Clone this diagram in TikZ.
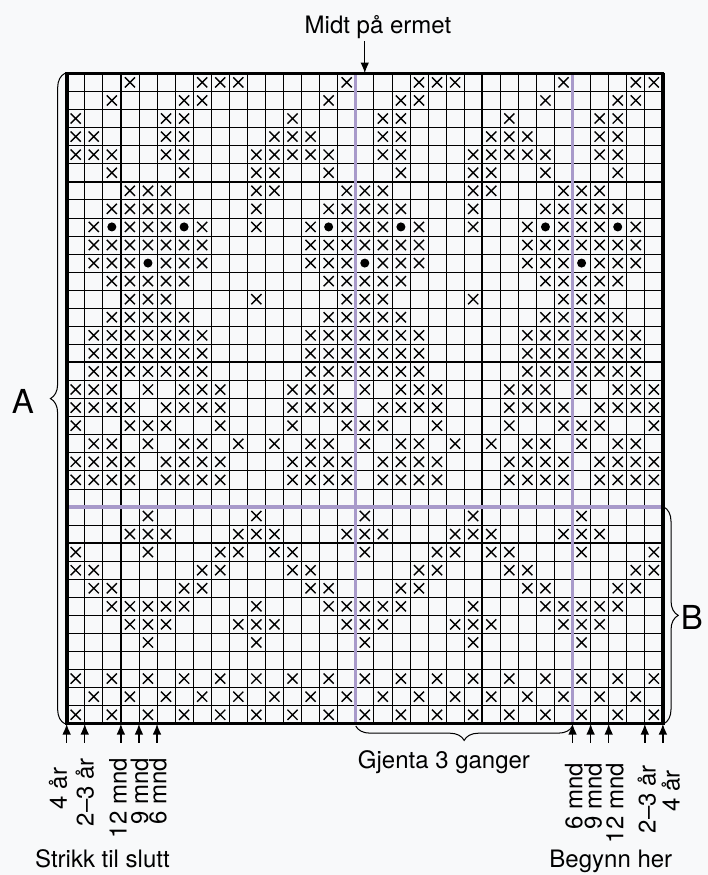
\documentclass[tikz,border=0pt]{standalone}
\usepackage{fontspec}
\setmainfont{TeX Gyre Heros}
\usetikzlibrary{arrows.meta,decorations.pathreplacing}
\definecolor{bakgrunn}{RGB}{248,249,250}
\definecolor{lilla}{RGB}{168,154,202}
\tikzset{
  tynn/.style={line width=0.6pt},
  tykk/.style={line width=1.5pt},
  midtlinje/.style={lilla,line width=2.7pt},
  pil/.style={-{Latex[length=3mm,width=2.4mm]},line width=1.1pt},
  klamme/.style={decorate,decoration={brace,amplitude=0.4cm},line width=0.8pt},
  tekst/.style={font=\fontsize{18.9}{22}\selectfont,inner sep=0pt},
  str/.style={tekst,rotate=90,anchor=east},
  bokstav/.style={font=\fontsize{26}{30}\selectfont,inner sep=0pt},
  kryss/.pic={\draw[line width=1.1pt] (-0.28,-0.28) -- (0.28,0.28) (-0.28,0.28) -- (0.28,-0.28);}
}

\begin{document}
\begin{tikzpicture}[x=0.5cm,y=0.5cm,>=latex]
    \fill[bakgrunn] (-3.69,4.06) rectangle (35.49,-44.37);
    \useasboundingbox (-3.69,4.06) rectangle (35.49,-44.37);
    % rutenett
    \draw[tynn,step=1] (0,0) grid (33,-36);
    \foreach \x in {3,13,23} \draw[tykk] (\x,0) -- (\x,-36);
    \foreach \y in {6,16,26} \draw[tykk] (0,-\y) -- (33,-\y);
    \draw[midtlinje] (0,-24) -- (33,-24);
    \foreach \x in {16,28} \draw[midtlinje] (\x,0) -- (\x,-36);
    % moenster, rad for rad ovenfra
    \foreach \r/\cols in {
        0/{3,7,8,9,15,19,20,21,27,31,32},
        1/{2,6,7,14,18,19,26,30,31},
        2/{0,5,6,12,17,18,24,29,30},
        3/{0,1,5,6,11,12,13,17,18,23,24,25,29,30},
        4/{0,1,2,5,6,10,11,12,13,14,17,18,22,23,24,25,26,29,30},
        5/{2,6,10,11,14,18,22,23,26,30},
        6/{3,4,5,10,11,15,16,17,22,23,27,28,29},
        7/{2,3,4,5,6,10,14,15,16,17,18,22,26,27,28,29,30},
        8/{1,3,4,5,7,10,13,15,16,17,19,22,25,27,28,29,31},
        9/{1,2,3,4,5,6,7,13,14,15,16,17,18,19,25,26,27,28,29,30,31},
        10/{1,2,3,5,6,7,13,14,15,17,18,19,25,26,27,29,30,31},
        11/{2,3,4,5,6,14,15,16,17,18,26,27,28,29,30},
        12/{3,4,5,10,15,16,17,22,27,28,29},
        13/{2,3,4,5,6,14,15,16,17,18,26,27,28,29,30},
        14/{1,2,3,4,5,6,7,13,14,15,16,17,18,19,25,26,27,28,29,30,31},
        15/{1,2,3,4,5,6,7,13,14,15,16,17,18,19,25,26,27,28,29,30,31},
        16/{1,2,3,4,5,6,7,13,14,15,16,17,18,19,25,26,27,28,29,30,31},
        17/{0,1,2,4,6,7,8,12,13,14,16,18,19,20,24,25,26,28,30,31,32},
        18/{0,1,2,3,5,6,7,8,12,13,14,15,17,18,19,20,24,25,26,27,29,30,31,32},
        19/{0,3,4,5,8,12,15,16,17,20,24,27,28,29,32},
        20/{1,2,4,6,7,9,11,13,14,16,18,19,21,23,25,26,28,30,31},
        21/{0,1,2,3,5,6,7,8,12,13,14,15,17,18,19,20,24,25,26,27,29,30,31,32},
        22/{0,1,2,3,5,6,7,8,12,13,14,15,17,18,19,20,24,25,26,27,29,30,31,32},
        24/{4,10,16,22,28},
        25/{3,4,5,9,10,11,15,16,17,21,22,23,27,28,29},
        26/{0,4,8,9,11,12,16,20,21,23,24,28,32},
        27/{0,1,7,8,12,13,19,20,24,25,31,32},
        28/{1,2,6,7,13,14,18,19,25,26,30,31},
        29/{2,3,4,5,6,10,14,15,16,17,18,22,26,27,28,29,30},
        30/{3,4,5,9,10,11,15,16,17,21,22,23,27,28,29},
        31/{4,10,16,22,28},
        33/{0,2,...,32},
        34/{1,3,...,31},
        35/{0,2,...,32}} {
        \foreach \c in \cols \pic at (\c+0.5,-\r-0.5) {kryss};
    }
    \foreach \r/\cols in {8/{2,6,14,18,26,30},10/{4,16,28}} {
        \foreach \c in \cols \fill (\c+0.5,-\r-0.5) circle (0.25);
    }
    \draw[line width=2.1pt] (0,0) rectangle (33,-36);
    \draw[line width=3pt] (0,0.04) -- (0,-36.04) (33,0.04) -- (33,-36.04);
    % klammer
    \draw[klamme] (-0.1,-36) -- (-0.1,0);
    \draw[klamme] (33.05,-24) -- (33.05,-36);
    \draw[klamme] (28,-36.12) -- (16,-36.12);
    \node[bokstav] (A) at (-2.42,-18.16) {A};
    \node[bokstav] (B) at (34.6,-30.12) {B};
    % tekst og piler
    \node[tekst,anchor=base] (midt) at (17.23,2.23) {Midt på ermet};
    \coordinate (midtpil) at (16.5,0);
    \draw[pil] (16.5,1.79) -- (midtpil);
    \foreach \x in {0,1,3,4,5,28,29,30,32,33} {
        \coordinate (m\x) at (\x,-36);
        \draw[pil] (\x,-37.06) -- (m\x);
    }
    \node[str] (v4) at (-0.48,-38.43) {4 år};
    \node[str] (v23) at (1.01,-37.89) {2–3 år};
    \node[str] (v12) at (2.84,-37.89) {12 mnd};
    \node[str] (v9) at (4.04,-37.89) {9 mnd};
    \node[str] (v6) at (5.04,-37.89) {6 mnd};
    \node[str] (h6) at (28.07,-38.17) {6 mnd};
    \node[str] (h9) at (29.13,-38.17) {9 mnd};
    \node[str] (h12) at (30.34,-38.17) {12 mnd};
    \node[str] (h23) at (32.11,-38.28) {2–3 år};
    \node[str] (h4) at (33.44,-38.56) {4 år};
    \node[tekst,anchor=base] (gjenta) at (20.88,-38.46) {Gjenta 3 ganger};
    \node[tekst,anchor=base] (strikk) at (1.98,-43.95) {Strikk til slutt};
    \node[tekst,anchor=base] (begynn) at (30.12,-43.95) {Begynn her};
\end{tikzpicture}
\end{document}
